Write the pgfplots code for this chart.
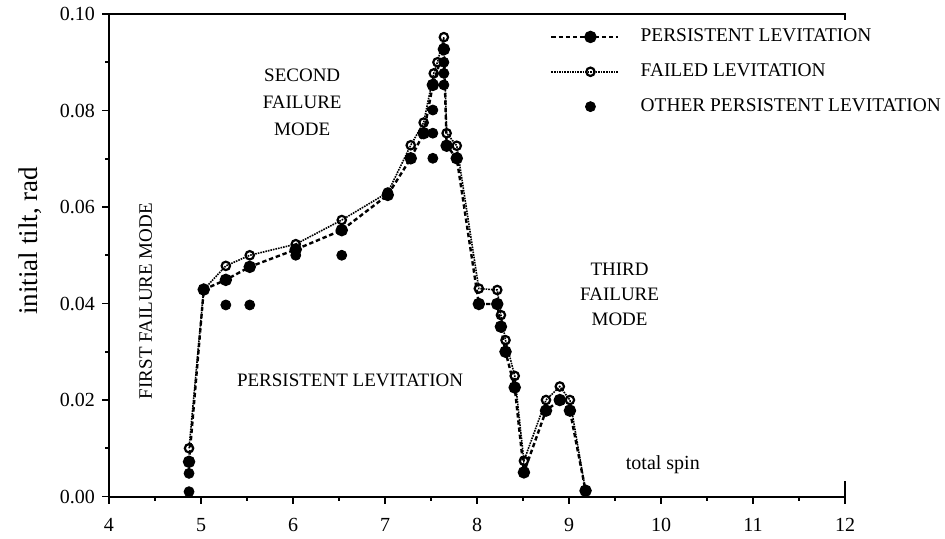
\documentclass[border=0pt]{standalone}
\usepackage{fontspec}
\setmainfont{Liberation Serif}
\usepackage{pgfplots}
\pgfplotsset{compat=1.18}

% legend samples: a line with the mark a little right of its middle, or a single mark
\pgfplotsset{
  linelegend/.style={legend image code/.code={%
    \draw[mark repeat=2, mark phase=2, ##1] plot coordinates {(0pt,0pt) (19.5pt,0pt) (33.5pt,0pt)};}},
  dotlegend/.style={legend image code/.code={%
    \draw[##1] plot coordinates {(19.5pt,0pt)};}},
}

% boundary of persistent levitation (filled circles, dashed)
\pgfplotstableread{
x     y
4.87  0.0072
5.03  0.0429
5.27  0.0449
5.53  0.0476
6.03  0.0512
6.53  0.0552
7.03  0.0625
7.28  0.0701
7.42  0.0753
7.52  0.0853
7.64  0.0927
7.67  0.0727
7.78  0.0701
8.02  0.0399
8.22  0.0399
8.26  0.0352
8.31  0.0300
8.41  0.0226
8.51  0.0050
8.75  0.0178
8.90  0.0200
9.01  0.0178
9.18  0.0012
}\persisttab

% failed levitation (open circles)
\pgfplotstableread{
x     y
4.87  0.0100
5.03  0.0429
5.27  0.0478
5.53  0.0500
6.03  0.0523
6.53  0.0573
7.03  0.0630
7.28  0.0728
7.42  0.0775
7.53  0.0877
7.57  0.0900
7.64  0.0952
7.67  0.0753
7.78  0.0727
8.02  0.0431
8.22  0.0428
8.26  0.0376
8.31  0.0324
8.41  0.0250
8.51  0.0074
8.75  0.0200
8.90  0.0228
9.01  0.0200
9.18  0.0012
}\failedtab

% other persistent levitation runs
\pgfplotstableread{
x     y
4.87  0.0048
4.87  0.0010
5.27  0.0397
5.53  0.0397
6.03  0.0500
6.53  0.0500
7.52  0.0801
7.52  0.0753
7.52  0.0701
7.64  0.0900
7.64  0.0877
7.64  0.0853
}\othertab

\begin{document}
\begin{tikzpicture}
\begin{axis}[
  scale only axis,
  width=368pt, height=241.25pt,
  xmin=4, xmax=12, ymin=0, ymax=0.1,
  axis x line*=bottom, axis y line*=left,
  axis line style={line width=1pt},
  xtick={4,5,6,7,8,9,10,11,12}, minor x tick num=1,
  ytick={0,0.02,0.04,0.06,0.08,0.1}, minor y tick num=1,
  scaled y ticks=false,
  tick align=outside,
  major tick length=3.5pt, minor tick length=2pt,
  every tick/.style={black, line width=0.8pt},
  /pgf/number format/assume math mode=true,
  ticklabel style={font=\fontsize{10}{12}\selectfont},
  yticklabel style={/pgf/number format/.cd, fixed, fixed zerofill, precision=2},
  xticklabel style={yshift=-4pt},
  ylabel={initial tilt, rad},
  every axis y label/.style={at={(rel axis cs:0,0.53)}, xshift=-39.5pt, rotate=90, anchor=center, font=\fontsize{13.5}{15}\selectfont},
  legend style={at={(0.599,0.978)}, anchor=north west, draw=none, fill=none, inner sep=0pt,
    font=\fontsize{9.7}{11}\selectfont, row sep=5.5pt,
    /tikz/every odd column/.append style={column sep=8.5pt}},
  legend cell align=left,
  clip=false,
]
\addplot[black, line width=1.2pt, dash pattern=on 2.2pt off 1.4pt,
  mark=*, mark size=2.5pt, mark options={solid, fill=black}, linelegend]
  table[x=x, y=y] {\persisttab};
\addlegendentry{PERSISTENT LEVITATION}
\addplot[black, line width=0.8pt, dash pattern=on 0.8pt off 0.5pt,
  mark=o, mark size=2.1pt, mark options={solid, fill=white, line width=1.1pt}, linelegend]
  table[x=x, y=y] {\failedtab};
\addlegendentry{FAILED LEVITATION}
\addplot[black, only marks, mark=*, mark size=2.5pt, dotlegend]
  table[x=x, y=y] {\othertab};
\addlegendentry{OTHER PERSISTENT LEVITATION}

% region annotations
\node[align=center, font=\fontsize{9.5}{13.5}\selectfont] at (axis cs:6.1,0.0816) {SECOND\\FAILURE\\MODE};
\node[rotate=90, font=\fontsize{9.5}{11.5}\selectfont] at (axis cs:4.40,0.0405) {FIRST FAILURE MODE};
\node[font=\fontsize{9.5}{11.5}\selectfont] at (axis cs:6.62,0.0241) {PERSISTENT LEVITATION};
\node[align=center, font=\fontsize{9.5}{12.5}\selectfont] at (axis cs:9.55,0.0418) {THIRD\\FAILURE\\MODE};
\node[font=\fontsize{10}{12}\selectfont] at (axis cs:10.02,0.0066) {total spin};
\end{axis}
% top frame line with its short end tick, and the stub at the lower right corner
\draw[line width=1pt] (0pt,241.25pt) -- (368pt,241.25pt) -- (368pt,238.25pt);
\draw[line width=1pt] (368pt,0pt) -- (368pt,8pt);
\pgfresetboundingbox
\path (-54.5pt,-20.75pt) rectangle (418pt,248.25pt);
\end{tikzpicture}
\end{document}
